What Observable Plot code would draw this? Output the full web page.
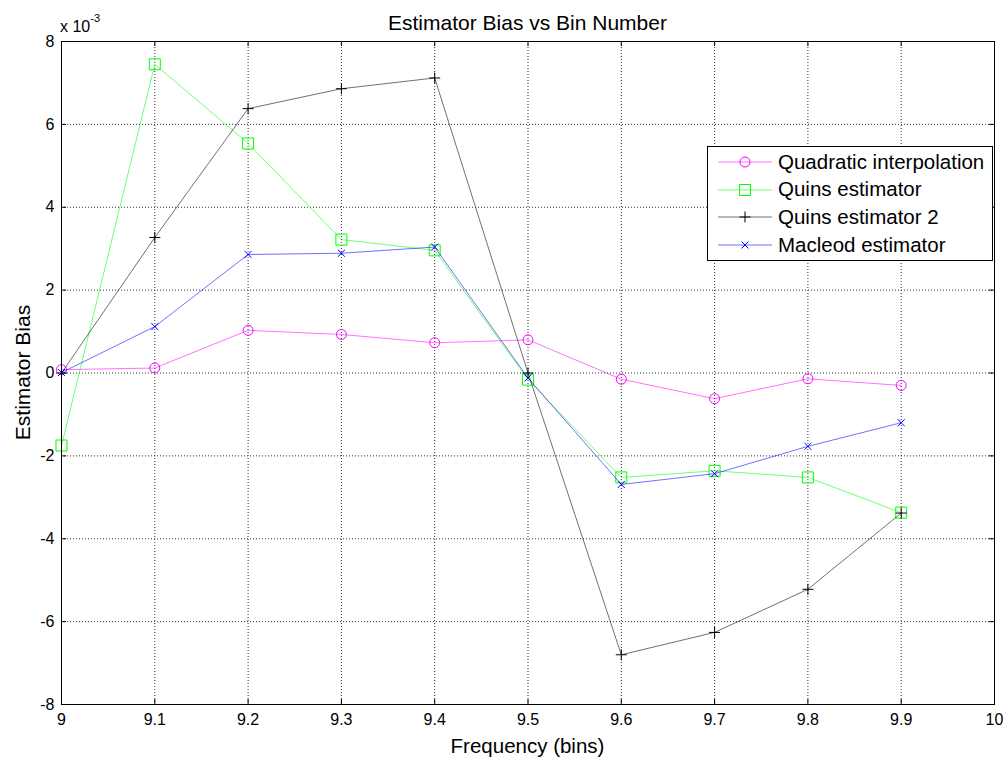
<!DOCTYPE html>
<html><head><meta charset="utf-8">
<script src="https://cdn.jsdelivr.net/npm/d3@7"></script>
<script src="https://cdn.jsdelivr.net/npm/@observablehq/plot@0.6"></script>
<style>
body{margin:0;background:#fff;font-family:"Liberation Sans",Arial,sans-serif;}
#wrap{position:relative;width:1003px;height:758px;overflow:hidden;background:#fff;}
.lbl{position:absolute;white-space:nowrap;color:#000;line-height:1;}
#legend{position:absolute;left:707px;top:146px;width:286px;height:115px;box-sizing:border-box;border:1px solid #000;background:#fff;}
.row{position:absolute;left:0;height:28px;display:flex;align-items:center;}
.row span{font-size:20.5px;line-height:1;margin-left:6px;}
</style></head><body><div id="wrap"></div>
<script>
// ---- data (bias values in units of 1e-3) ----
const freqs = [9.0, 9.1, 9.2, 9.3, 9.4, 9.5, 9.6, 9.7, 9.8, 9.9];
const quadratic = [0.08, 0.12, 1.03, 0.93, 0.73, 0.80, -0.15, -0.62, -0.14, -0.30];
const quins = [-1.75, 7.45, 5.54, 3.22, 2.96, -0.16, -2.52, -2.36, -2.52, -3.37];
const quins2 = [0.0, 3.27, 6.38, 6.86, 7.12, 0.0, -6.80, -6.26, -5.22, -3.38];
const macleod = [0.01, 1.12, 2.86, 2.89, 3.04, -0.12, -2.69, -2.43, -1.77, -1.20];
const seriesNames = ["Quadratic interpolation", "Quins estimator", "Quins estimator 2", "Macleod estimator"];
const seriesColors = ["#ff00ff", "#00ff00", "#000000", "#0000ff"];
const seriesSymbols = ["circle", "square", "plus", "times"];
const xTicks = [9, 9.1, 9.2, 9.3, 9.4, 9.5, 9.6, 9.7, 9.8, 9.9, 10];
const yTicks = [-8, -6, -4, -2, 0, 2, 4, 6, 8];
const titleText = "Estimator Bias vs Bin Number";
const xLabel = "Frequency (bins)";
const yLabel = "Estimator Bias";
const exponentBase = "x 10";
const exponentPow = "-3";

// ---- build ----
const seriesValues = [quadratic, quins, quins2, macleod];
const symbolR = [5, 6.2, 3.64, 3.27];
const rows = seriesNames.flatMap((name, i) =>
  freqs.map((f, j) => ({series: name, idx: i, x: f, y: seriesValues[i][j]})));

const W = 1003, H = 758, mL = 61, mR = 9, mT = 41, mB = 54;
const frameW = W - mL - mR, frameH = H - mT - mB;
const tickLen = 5;

const marks = [
  Plot.gridX(xTicks, {stroke: "#333", strokeOpacity: 1, strokeDasharray: "1,2", strokeWidth: 1}),
  Plot.gridY(yTicks, {stroke: "#333", strokeOpacity: 1, strokeDasharray: "1,2", strokeWidth: 1}),
  Plot.tickX(xTicks, {x: d => d, insetTop: frameH - tickLen, stroke: "#000"}),
  Plot.tickX(xTicks, {x: d => d, insetBottom: frameH - tickLen, stroke: "#000"}),
  Plot.tickY(yTicks, {y: d => d, insetRight: frameW - tickLen, stroke: "#000"}),
  Plot.tickY(yTicks, {y: d => d, insetLeft: frameW - tickLen, stroke: "#000"}),
  Plot.axisX(xTicks, {tickSize: 0, tickPadding: 9, tickFormat: d => String(d), label: null}),
  Plot.axisY(yTicks, {tickSize: 0, tickPadding: 7, tickFormat: d => String(d), label: null}),
];
seriesNames.forEach((name, i) => {
  const data = rows.filter(r => r.idx === i);
  marks.push(Plot.line(data, {x: "x", y: "y", stroke: seriesColors[i], strokeWidth: 0.8, strokeOpacity: 0.7}));
  marks.push(Plot.dot(data, {x: "x", y: "y", symbol: seriesSymbols[i], r: symbolR[i],
    stroke: seriesColors[i], fill: "none", strokeWidth: 1}));
});
marks.push(Plot.frame({stroke: "#000", strokeWidth: 1}));

const chart = Plot.plot({
  width: W, height: H,
  marginLeft: mL, marginRight: mR, marginTop: mT, marginBottom: mB,
  style: {fontFamily: "'Liberation Sans', Arial, sans-serif", fontSize: "16px", color: "#000", background: "#fff", overflow: "visible"},
  x: {domain: [9, 10]},
  y: {domain: [-8, 8]},
  marks
});

const wrap = document.getElementById("wrap");
wrap.appendChild(chart);

function addLabel(text, css) {
  const d = document.createElement("div");
  d.className = "lbl";
  d.textContent = text;
  Object.assign(d.style, css);
  wrap.appendChild(d);
  return d;
}
addLabel(titleText, {left: mL + "px", width: frameW + "px", textAlign: "center", top: (29.5 - 0.8465 * 21) + "px", fontSize: "21px"});
addLabel(xLabel, {left: mL + "px", width: frameW + "px", textAlign: "center", top: (753 - 0.8465 * 20.5) + "px", fontSize: "20.5px"});
addLabel(yLabel, {left: (21.7 - 150) + "px", top: (mT + frameH / 2 - 10.5) + "px", width: "300px", height: "21px", lineHeight: "21px", textAlign: "center", fontSize: "21px", transform: "rotate(-90deg)", transformOrigin: "50% 50%"});
const ex = addLabel("", {left: "60px", top: (32.3 - 0.8465 * 16) + "px", fontSize: "16px"});
ex.appendChild(document.createTextNode(exponentBase));
const sp = document.createElement("span");
sp.textContent = exponentPow;
Object.assign(sp.style, {fontSize: "11px", position: "relative", top: "-10px"});
ex.appendChild(sp);

// legend
const symMap = {circle: d3.symbolCircle, square: d3.symbolSquare, plus: d3.symbolPlus, times: d3.symbolTimes};
const legend = document.createElement("div");
legend.id = "legend";
wrap.appendChild(legend);
seriesNames.forEach((name, i) => {
  const row = document.createElement("div");
  row.className = "row";
  row.style.top = (16 - 14 - 1 + i * 27.7) + "px";
  const ns = "http://www.w3.org/2000/svg";
  const svg = document.createElementNS(ns, "svg");
  svg.setAttribute("width", 54); svg.setAttribute("height", 28);
  svg.style.marginLeft = "10px";
  const ln = document.createElementNS(ns, "line");
  ln.setAttribute("x1", 0); ln.setAttribute("x2", 54); ln.setAttribute("y1", 14); ln.setAttribute("y2", 14);
  ln.setAttribute("stroke", seriesColors[i]); ln.setAttribute("stroke-width", 0.8); ln.setAttribute("stroke-opacity", 0.7);
  svg.appendChild(ln);
  const p = document.createElementNS(ns, "path");
  p.setAttribute("d", d3.symbol(symMap[seriesSymbols[i]], Math.PI * symbolR[i] * symbolR[i])());
  p.setAttribute("transform", "translate(27,14)");
  p.setAttribute("fill", "none"); p.setAttribute("stroke", seriesColors[i]);
  svg.appendChild(p);
  row.appendChild(svg);
  const t = document.createElement("span");
  t.textContent = name;
  row.appendChild(t);
  legend.appendChild(row);
});
</script></body></html>
